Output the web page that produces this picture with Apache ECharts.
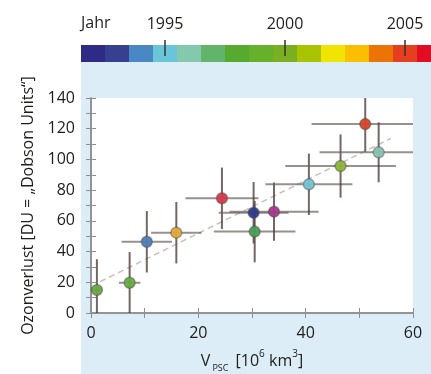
<!DOCTYPE html>
<html>
<head>
<meta charset="utf-8">
<script src="https://cdn.jsdelivr.net/npm/echarts@6/dist/echarts.min.js"></script>
<style>
  html, body { margin: 0; padding: 0; background: #fff; }
  #wrap { position: relative; width: 431px; height: 374px; }
  #bg { position: absolute; left: 81px; top: 62px; width: 350px; height: 312px; background: #dcedf7; }
  #chart { position: absolute; left: 0; top: 0; width: 431px; height: 374px; }
</style>
</head>
<body>
<div id="wrap">
  <div id="bg"></div>
  <div id="chart"></div>
</div>
<script>
// data
const vpsc = [1.1, 7.2, 10.4, 15.9, 24.4, 30.3, 30.5, 34.1, 40.6, 46.5, 51.1, 53.6];
const ozoneLoss = [15, 19.7, 46.4, 52.3, 74.7, 65.3, 53, 66, 83.8, 95.7, 123, 104.6];
const vpscErr = [1, 2, 4.7, 4.7, 6.8, 6.5, 7.6, 8.3, 8.1, 10.3, 10, 11];
const lossErr = [20, 20, 20, 20, 20, 20, 20, 19, 20, 20.6, 18, 19.5];
const fitX = [1.7, 55.9];
const fitY = [20.4, 113.7];
const years = [1992, 1993, 1994, 1995, 1996, 1997, 1998, 1999, 2000, 2001, 2002, 2003, 2004, 2005, 2006];
const yearLabels = [1995, 2000, 2005];

// colours
const yearColors = ['#2e2a85', '#35408f', '#4a88c5', '#6ac5d8', '#84c8ad', '#62b46a', '#56aa30', '#66b02a',
  '#7aaf22', '#a8c300', '#f0e500', '#fbbf00', '#ec7404', '#e63e1f', '#e30d23'];
const pointColors = ['#6aa844', '#62ad3e', '#4f7fb8', '#e0a93a', '#d63a4c', '#2f3a8c', '#4a9e55', '#a5378c',
  '#74c3d2', '#8cb43a', '#d4462c', '#86c2b2'];

const FONT = '"Open Sans", sans-serif';
const TXT = '#1d1d1b';
const AX = '#8e8e8e';

const chart = echarts.init(document.getElementById('chart'), null, { renderer: 'canvas' });

const points = vpsc.map((x, i) => [x, ozoneLoss[i], vpscErr[i], lossErr[i]]);

const sideAxis = {
  axisLine: { show: true, lineStyle: { color: AX, width: 1.5 } },
  axisTick: { show: true, length: 5, lineStyle: { color: AX, width: 1 } },
  minorTick: { show: true, splitNumber: 2, length: 5, lineStyle: { color: AX, width: 1 } },
  splitLine: { show: false },
};

const option = {
  backgroundColor: 'transparent',
  animation: false,
  textStyle: { fontFamily: FONT, color: TXT },
  grid: [
    { left: 91, top: 98, width: 322, height: 215, show: true, backgroundColor: '#fff', borderWidth: 0,
      containLabel: false, outerBoundsMode: 'none' },
    { left: 81, top: 45, width: 360, height: 17, show: false, containLabel: false, outerBoundsMode: 'none' },
  ],
  graphic: [
    { type: 'text', left: 81, top: 15, style: { text: 'Jahr', font: '16px ' + FONT, fill: TXT } },
  ],
  xAxis: [
    {
      gridIndex: 0, type: 'value', min: 0, max: 60, interval: 20, position: 'bottom',
      ...sideAxis,
      axisLabel: { fontSize: 16, color: TXT, margin: 12, fontFamily: FONT },
      name: '{a|V}{sub|PSC}{a| [10}{sup|6}{a| km}{sup|3}{a|]}',
      nameLocation: 'middle', nameGap: 40,
      nameTextStyle: {
        rich: {
          a: { fontSize: 16, color: TXT, fontFamily: FONT },
          sub: { fontSize: 9, color: TXT, fontFamily: FONT, verticalAlign: 'bottom', padding: [0, 3, -4, 2] },
          sup: { fontSize: 10, color: TXT, fontFamily: FONT, verticalAlign: 'top', padding: [-4, 0, 0, 0] },
        },
      },
    },
    {
      gridIndex: 0, type: 'value', min: 0, max: 60, interval: 20, position: 'top',
      ...sideAxis, axisLabel: { show: false },
    },
    {
      gridIndex: 1, type: 'category', data: years, position: 'top', offset: -6, z: 5,
      boundaryGap: true,
      axisLine: { show: false },
      axisTick: {
        show: true, alignWithLabel: true, length: 16,
        interval: (i, v) => yearLabels.includes(+v),
        lineStyle: { color: '#333', width: 1.5 },
      },
      axisLabel: {
        interval: (i, v) => yearLabels.includes(+v),
        fontSize: 16, color: TXT, margin: 19, fontFamily: FONT,
      },
    },
  ],
  yAxis: [
    {
      gridIndex: 0, type: 'value', min: 0, max: 140, interval: 20, position: 'left',
      ...sideAxis,
      axisLabel: { fontSize: 16, color: TXT, margin: 16, fontFamily: FONT },
      name: 'Ozonverlust [DU = \u201EDobson Units\u201C]',
      nameLocation: 'middle', nameGap: 52,
      nameTextStyle: { fontSize: 16, color: TXT, fontFamily: FONT },
    },
    {
      gridIndex: 0, type: 'value', min: 0, max: 140, interval: 20, position: 'right',
      ...sideAxis, axisLabel: { show: false },
    },
    { gridIndex: 1, type: 'value', min: 0, max: 1, show: false },
  ],
  series: [
    {
      type: 'line', xAxisIndex: 0, yAxisIndex: 0,
      data: fitX.map((x, i) => [x, fitY[i]]),
      symbol: 'none', z: 1,
      lineStyle: { color: '#c9c1bd', width: 1.5, type: [6, 4] },
    },
    {
      type: 'custom', xAxisIndex: 0, yAxisIndex: 0, clip: true, z: 2,
      data: points,
      renderItem: (params, api) => {
        const x = api.value(0), y = api.value(1), ex = api.value(2), ey = api.value(3);
        const l = api.coord([x - ex, y]), r = api.coord([x + ex, y]);
        const t = api.coord([x, y + ey]), b = api.coord([x, y - ey]);
        return {
          type: 'group',
          children: [
            { type: 'line', shape: { x1: l[0], y1: l[1], x2: r[0], y2: r[1] },
              style: { stroke: 'rgba(110,95,95,0.7)', lineWidth: 2 } },
            { type: 'line', shape: { x1: t[0], y1: t[1], x2: b[0], y2: b[1] },
              style: { stroke: 'rgba(80,65,65,0.8)', lineWidth: 2 } },
          ],
        };
      },
    },
    {
      type: 'scatter', xAxisIndex: 0, yAxisIndex: 0, z: 3,
      data: points.map((p, i) => ({ value: [p[0], p[1]], itemStyle: { color: pointColors[i] } })),
      symbol: 'circle', symbolSize: 11,
      itemStyle: { borderColor: 'rgba(70,70,70,0.45)', borderWidth: 1.5, opacity: 0.95 },
    },
    {
      type: 'bar', xAxisIndex: 2, yAxisIndex: 2, barCategoryGap: '0%', z: 2,
      data: years.map((y, i) => ({ value: 1, itemStyle: { color: yearColors[i] } })),
    },
  ],
};

chart.setOption(option);
</script>
</body>
</html>
